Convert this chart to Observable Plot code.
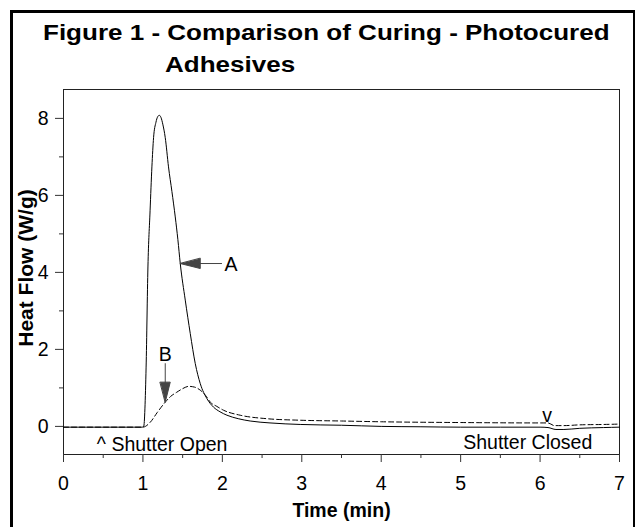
<!DOCTYPE html>
<html>
<head>
<meta charset="utf-8">
<script src="https://cdn.jsdelivr.net/npm/d3@7"></script>
<script src="https://cdn.jsdelivr.net/npm/@observablehq/plot@0.6"></script>
<style>
  html, body { margin: 0; padding: 0; background: #fff; }
  body { width: 637px; height: 527px; position: relative; overflow: hidden; font-family: "Liberation Sans", Arial, sans-serif; }
  #border { position: absolute; left: 10px; top: 10px; width: 625px; height: 600px; border-left: 3px solid #000; border-top: 3px solid #000; border-right: 2px solid #000; box-sizing: border-box; }
  .title { position: absolute; font-weight: bold; font-size: 21.5px; line-height: 21.5px; white-space: nowrap; transform: scaleX(1.21); transform-origin: 0 0; color: #000; }
  #chart { position: absolute; left: 0; top: 0; }
</style>
</head>
<body>
<div id="border"></div>
<div class="title" id="t1" style="left:43px; top:22.8px;">Figure 1 - Comparison of Curing - Photocured</div>
<div class="title" id="t2" style="left:165px; top:55px;">Adhesives</div>
<div id="chart"></div>
<script>
// ---- data ----
const timeA = [0, 0.5, 0.99, 1.01, 1.04, 1.063, 1.09, 1.113, 1.134, 1.164, 1.185, 1.206, 1.228, 1.25, 1.281, 1.322, 1.365, 1.407, 1.44, 1.47, 1.533, 1.596, 1.659, 1.722, 1.806, 1.889, 1.97, 2.058, 2.2, 2.35, 2.6, 2.98, 3.5, 4.0, 4.5, 5.0, 5.5, 6.0, 6.1, 6.2, 6.3, 6.5, 6.8, 7.0];
const heatA = [-0.02, -0.02, -0.02, 0.0, 1.54, 4.14, 5.6, 6.74, 7.5, 7.9, 8.04, 8.08, 8.02, 7.85, 7.5, 6.74, 6.1, 5.44, 4.85, 4.23, 3.28, 2.41, 1.63, 1.11, 0.72, 0.50, 0.38, 0.29, 0.2, 0.14, 0.09, 0.05, 0.03, 0.0, -0.01, -0.02, -0.02, -0.02, -0.03, -0.08, -0.08, -0.05, -0.03, -0.02];
const timeB = [0, 0.5, 1.0, 1.093, 1.18, 1.281, 1.35, 1.428, 1.5, 1.574, 1.65, 1.722, 1.79, 1.848, 1.93, 2.015, 2.225, 2.56, 2.98, 3.5, 4.0, 5.0, 6.0, 6.1, 6.18, 6.3, 6.5, 6.8, 7.0];
const heatB = [-0.02, -0.02, -0.02, 0.11, 0.36, 0.63, 0.78, 0.89, 0.98, 1.04, 1.02, 0.94, 0.80, 0.63, 0.52, 0.42, 0.29, 0.20, 0.16, 0.14, 0.12, 0.10, 0.09, 0.09, 0.02, 0.02, 0.04, 0.05, 0.06];

const xMajor = [0, 1, 2, 3, 4, 5, 6, 7];
const xMinor = [0.5, 1.5, 2.5, 3.5, 4.5, 5.5, 6.5];
const yMajor = [0, 2, 4, 6, 8];
const yMinor = [1, 3, 5, 7];

const labelNames = ["A", "B", "Shutter Closed", "v"];
const labelX = [2.108, 1.281, 5.845, 6.088];
const labelY = [4.21, 1.87, -0.42, 0.27];

const openLabel = ["^ Shutter Open"];
const openX = [0.42];
const openY = [-0.48];

const arrowNames = ["A", "B"];
const arrowFromX = [1.995, 1.281];
const arrowFromY = [4.23, 1.64];
const arrowToX = [1.47, 1.281];
const arrowToY = [4.23, 0.63];
const arrowDir = [-90, 180];

const xTitle = "Time (min)";
const yTitle = "Heat Flow (W/g)";

// ---- build tables ----
const seriesA = timeA.map((t, i) => ({t, h: heatA[i]}));
const seriesB = timeB.map((t, i) => ({t, h: heatB[i]}));
const labels = labelNames.map((s, i) => ({s, x: labelX[i], y: labelY[i]}));
const openLabels = openLabel.map((s, i) => ({s, x: openX[i], y: openY[i]}));
const arrows = arrowNames.map((n, i) => ({x1: arrowFromX[i], y1: arrowFromY[i], x2: arrowToX[i], y2: arrowToY[i], r: arrowDir[i]}));

const headShape = {
  draw(context, l) {
    context.moveTo(0, -l);
    context.lineTo(-5, 0);
    context.lineTo(5, 0);
    context.closePath();
  }
};

const plot = Plot.plot({
  width: 637,
  height: 527,
  marginLeft: 63,
  marginRight: 18,
  marginTop: 89,
  marginBottom: 73,
  style: {fontSize: "19.5px", fontFamily: "'Liberation Sans', Arial, sans-serif", background: "transparent", color: "#000", overflow: "visible"},
  x: {domain: [0, 7]},
  y: {domain: [-0.73, 8.75]},
  marks: [
    Plot.frame({stroke: "#222"}),
    Plot.axisX(xMajor, {tickSize: 8, tickPadding: 14, tickFormat: d => String(d), label: null, stroke: "#333"}),
    Plot.axisX(xMinor, {tickSize: 4, tickFormat: () => "", label: null, stroke: "#333"}),
    Plot.axisY(yMajor, {tickSize: 8, tickPadding: 7, tickFormat: d => String(d), label: null, stroke: "#333"}),
    Plot.axisY(yMinor, {tickSize: 4, tickFormat: () => "", label: null, stroke: "#333"}),
    Plot.line(seriesB, {x: "t", y: "h", stroke: "#000", strokeWidth: 1, strokeDasharray: "5,3", curve: "monotone-x"}),
    Plot.line(seriesA, {x: "t", y: "h", stroke: "#000", strokeWidth: 1, curve: "monotone-x"}),
    Plot.link(arrows, {x1: "x1", y1: "y1", x2: "x2", y2: "y2", stroke: "#444", strokeWidth: 1}),
    Plot.vector(arrows, {x: "x2", y: "y2", rotate: "r", length: 20, anchor: "end", shape: headShape, fill: "#444", stroke: "#444", strokeWidth: 1}),
    Plot.text(labels, {x: "x", y: "y", text: "s", textAnchor: "middle", fill: "#000", lineAnchor: "middle"}),
    Plot.text(openLabels, {x: "x", y: "y", text: "s", textAnchor: "start", fill: "#000", lineAnchor: "middle"}),
    Plot.text([xTitle], {frameAnchor: "bottom", lineAnchor: "middle", textAnchor: "middle", dy: 56.5, fontWeight: "bold", fill: "#000"}),
    Plot.text([yTitle], {frameAnchor: "left", textAnchor: "middle", lineAnchor: "middle", rotate: -90, dx: -37, dy: -4, fontWeight: "bold", fontSize: 21, fill: "#000"})
  ]
});
document.getElementById("chart").appendChild(plot);
</script>
</body>
</html>
